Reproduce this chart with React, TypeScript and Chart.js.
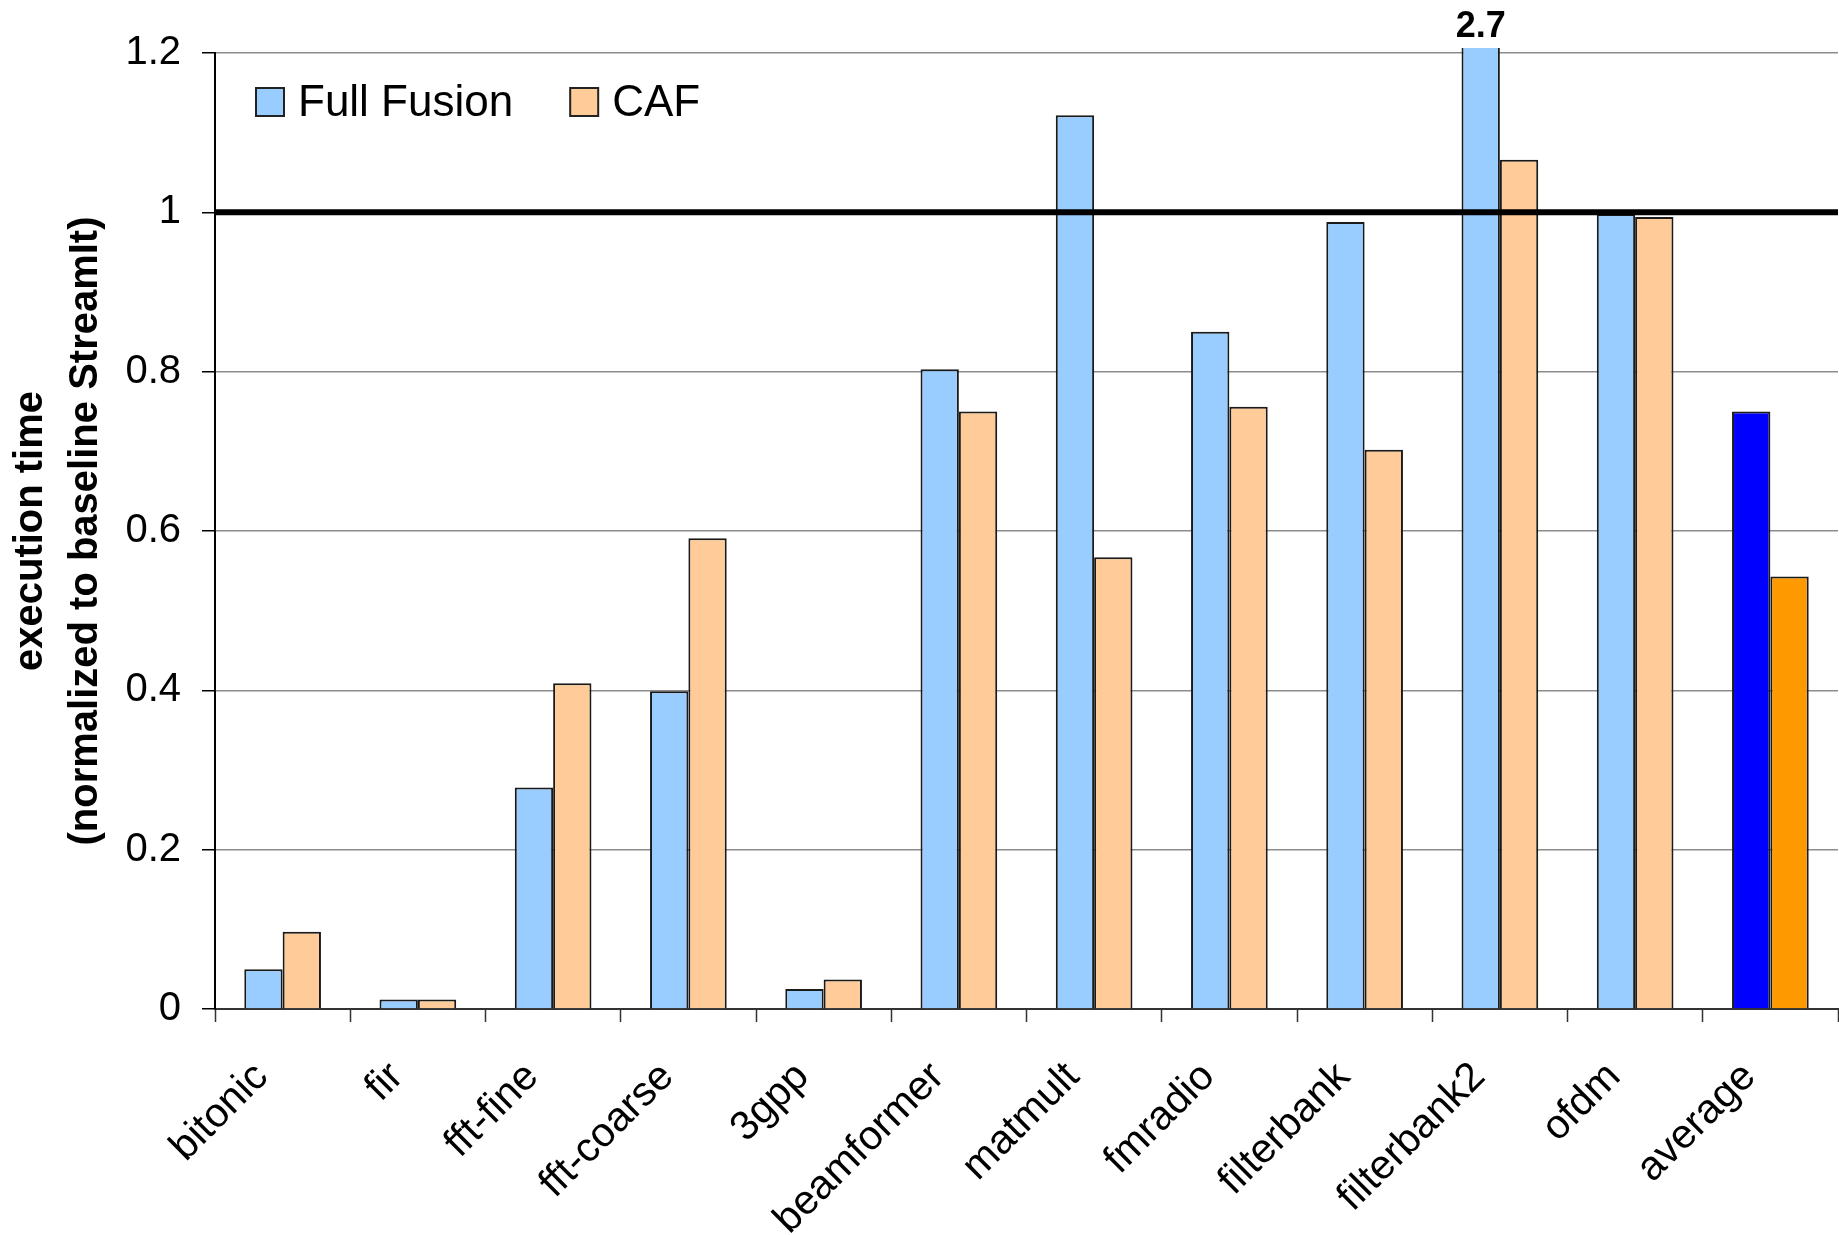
import { useEffect, useRef } from 'react';
import { Chart, registerables } from 'chart.js';

Chart.register(...registerables);

// Benchmarks and execution time normalised to the baseline StreamIt compiler
const BENCHMARKS = [
  'bitonic', 'fir', 'fft-fine', 'fft-coarse', '3gpp', 'beamformer',
  'matmult', 'fmradio', 'filterbank', 'filterbank2', 'ofdm', 'average',
];
const FULL_FUSION = [0.05, 0.012, 0.278, 0.399, 0.025, 0.803, 1.122, 0.85, 0.988, 2.7, 0.998, 0.75];
const CAF = [0.097, 0.012, 0.409, 0.591, 0.037, 0.75, 0.567, 0.756, 0.702, 1.066, 0.994, 0.543];
const SERIES_NAMES = ['Full Fusion', 'CAF'];
const Y_TICKS = [0, 0.2, 0.4, 0.6, 0.8, 1, 1.2];
const BASELINE = 1;
const Y_TITLE = ['execution time', '(normalized to baseline StreamIt)'];

const FONT = '"Liberation Sans", Arial, Helvetica, sans-serif';

// Thick reference line at the baseline value, drawn over the bars
const baselinePlugin = {
  id: 'baselineLine',
  afterDatasetsDraw(chart: any) {
    const { ctx, chartArea, scales } = chart;
    const y = scales.y.getPixelForValue(BASELINE);
    ctx.save();
    ctx.strokeStyle = '#000';
    ctx.lineWidth = 6;
    ctx.beginPath();
    ctx.moveTo(chartArea.left, y);
    ctx.lineTo(chartArea.right, y);
    ctx.stroke();
    ctx.restore();
  },
};

// Value label for bars that run past the top of the axis
const overflowLabelPlugin = {
  id: 'overflowLabel',
  afterDatasetsDraw(chart: any) {
    const { ctx, chartArea, scales } = chart;
    const max = scales.y.max;
    chart.data.datasets.forEach((ds: any, i: number) => {
      const meta = chart.getDatasetMeta(i);
      ds.data.forEach((v: number, j: number) => {
        if (v > max) {
          const bar = meta.data[j];
          ctx.save();
          ctx.font = `bold 36px ${FONT}`;
          ctx.fillStyle = '#000';
          ctx.textAlign = 'center';
          ctx.textBaseline = 'alphabetic';
          ctx.fillText(String(v), bar.x, chartArea.top - 16);
          ctx.restore();
        }
      });
    });
  },
};

// Legend placed inside the plot area, top-left
const insideLegendPlugin = {
  id: 'insideLegend',
  afterDraw(chart: any) {
    const { ctx, chartArea } = chart;
    const box = 28;
    const top = chartArea.top + 35;
    let x = chartArea.left + 41;
    ctx.save();
    ctx.font = `44px ${FONT}`;
    ctx.textBaseline = 'alphabetic';
    ctx.textAlign = 'left';
    chart.data.datasets.forEach((ds: any) => {
      const bg = Array.isArray(ds.backgroundColor) ? ds.backgroundColor[0] : ds.backgroundColor;
      ctx.fillStyle = bg;
      ctx.fillRect(x, top, box, box);
      ctx.strokeStyle = '#222';
      ctx.lineWidth = 2;
      ctx.strokeRect(x, top, box, box);
      ctx.fillStyle = '#000';
      const tx = x + box + 14;
      ctx.fillText(ds.label, tx, top + box);
      x = tx + ctx.measureText(ds.label).width + 57;
    });
    ctx.restore();
  },
};

export default function App() {
  const canvasRef = useRef<HTMLCanvasElement>(null);

  useEffect(() => {
    if (!canvasRef.current) return;
    Chart.defaults.font.family = FONT;
    Chart.defaults.color = '#000';

    const chart = new Chart(canvasRef.current, {
      type: 'bar',
      data: {
        labels: BENCHMARKS,
        datasets: [
          {
            label: SERIES_NAMES[0],
            data: FULL_FUSION,
            backgroundColor: BENCHMARKS.map((b) => (b === 'average' ? '#0000FF' : '#99CCFF')),
            borderColor: '#1a1a1a',
            borderWidth: 2,
            clip: { left: 0, top: 5, right: 0, bottom: 0 },
          },
          {
            label: SERIES_NAMES[1],
            data: CAF,
            backgroundColor: BENCHMARKS.map((b) => (b === 'average' ? '#FF9900' : '#FFCC99')),
            borderColor: '#1a1a1a',
            borderWidth: 2,
            clip: { left: 0, top: 5, right: 0, bottom: 0 },
          },
        ],
      },
      options: {
        responsive: false,
        animation: false,
        devicePixelRatio: 1,
        layout: { padding: { top: 53, right: 1, left: 0, bottom: 0 } },
        datasets: {
          bar: { categoryPercentage: 0.567, barPercentage: 1 },
        },
        plugins: {
          legend: { display: false },
          tooltip: { enabled: false },
        },
        scales: {
          x: {
            offset: true,
            grid: {
              offset: true,
              drawOnChartArea: false,
              drawTicks: true,
              tickLength: 13,
              tickColor: '#333',
              tickWidth: 1.5,
            },
            border: { display: true, color: '#333', width: 2 },
            ticks: {
              autoSkip: false,
              maxRotation: 45,
              minRotation: 45,
              padding: 31,
              labelOffset: -21,
              color: '#000',
              font: { size: 41, family: FONT },
            },
            afterFit(scale: any) {
              scale.height = 226;
              scale.paddingLeft = 0;
              scale.paddingRight = 0;
            },
          },
          y: {
            min: 0,
            max: 1.2,
            grid: {
              color: '#8c8c8c',
              lineWidth: 1.5,
              drawTicks: true,
              tickLength: 13,
              tickColor: '#000',
              tickWidth: 1.5,
            },
            border: { display: true, color: '#000', width: 2 },
            ticks: {
              padding: 21,
              color: '#000',
              font: { size: 40, family: FONT },
              callback: (v: any) => String(Number(Number(v).toFixed(1))),
            },
            afterBuildTicks(scale: any) {
              scale.ticks = Y_TICKS.map((v) => ({ value: v }));
            },
            title: {
              display: true,
              text: Y_TITLE,
              color: '#000',
              padding: { top: 3.5, bottom: 0 },
              font: { size: 40, weight: 'bold', family: FONT, lineHeight: 1.375 },
            },
            afterFit(scale: any) {
              scale.width = 215;
            },
          },
        },
      },
      plugins: [baselinePlugin, overflowLabelPlugin, insideLegendPlugin],
    } as any);

    return () => chart.destroy();
  }, []);

  return (
    <div style={{ position: 'fixed', left: 0, top: 0, width: 1839, height: 1235, background: '#fff' }}>
      <canvas ref={canvasRef} width={1839} height={1235} style={{ display: 'block' }} />
    </div>
  );
}
